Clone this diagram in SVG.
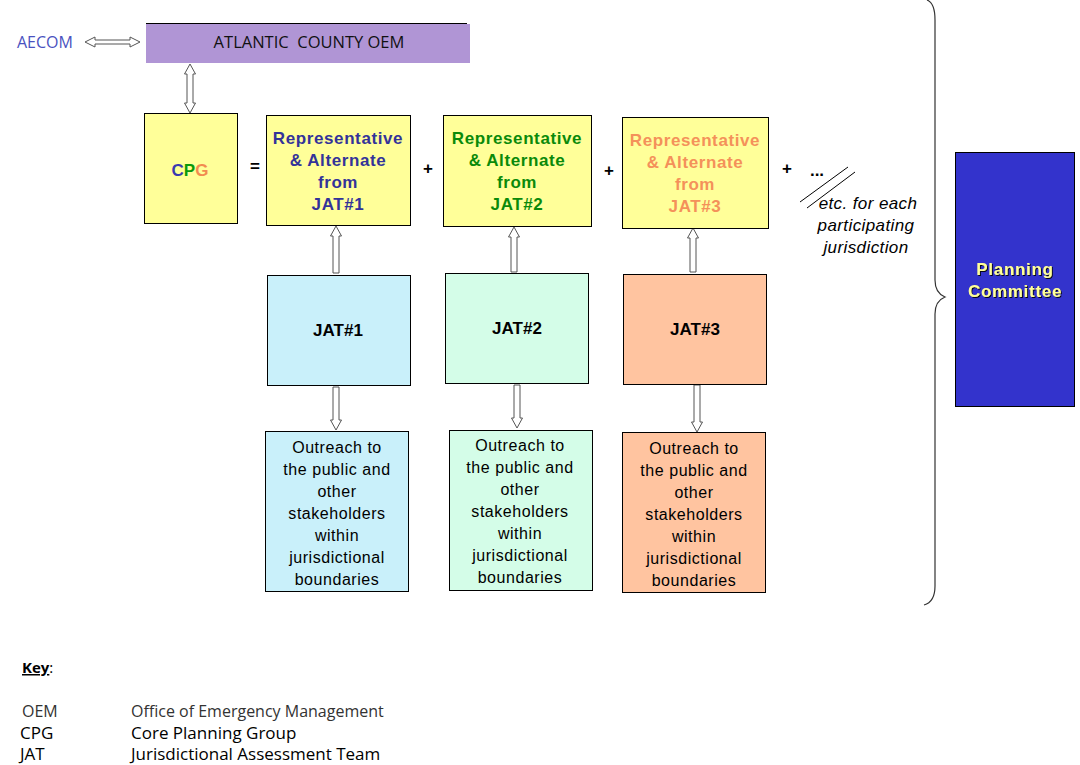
<svg xmlns="http://www.w3.org/2000/svg" width="1080" height="765" viewBox="0 0 1080 765">
<defs>
<filter id="sh" x="-10%" y="-10%" width="130%" height="140%"><feDropShadow dx="1" dy="1" stdDeviation="0.3" flood-color="#000" flood-opacity="0.9"/></filter>
</defs>
<style>
.box{stroke:#000;stroke-width:1}
.arr{fill:#fff;stroke:#555;stroke-width:1}
.b{font-family:"Liberation Sans",Arial,sans-serif;font-weight:bold;font-size:17px;text-anchor:middle}
.r{font-family:"Liberation Sans",Arial,sans-serif;font-size:16px;letter-spacing:0.55px;text-anchor:middle;fill:#000}
.rep{letter-spacing:0.6px}
.seg{font-family:"Open Sans","Noto Sans",sans-serif}
</style>
<rect width="1080" height="765" fill="#fff"/>
<g id="connectors">
<polygon class="arr" points="85,42 95,37 95,40 130,40 130,37 140,42 130,47 130,44 95,44 95,47"/>
<polygon class="arr" points="190,64 195.5,74 193,74 193,103 195.5,103 190,113 184.5,103 187,103 187,74 184.5,74"/>
<polygon class="arr" points="336,226 341.5,236 339,236 339,273 333,273 333,236 330.5,236"/>
<polygon class="arr" points="514,227 519.5,237 517,237 517,272 511,272 511,237 508.5,237"/>
<polygon class="arr" points="693,228 698.5,238 696,238 696,272 690,272 690,238 687.5,238"/>
<polygon class="arr" points="336,430 341.5,420 339,420 339,387 333,387 333,420 330.5,420"/>
<polygon class="arr" points="517,428 522.5,418 520,418 520,385 514,385 514,418 511.5,418"/>
<polygon class="arr" points="697,432 702.5,422 700,422 700,385 694,385 694,422 691.5,422"/>
<line x1="800" y1="202" x2="848" y2="167" stroke="#000" stroke-width="1"/>
<line x1="807" y1="208" x2="855" y2="172" stroke="#000" stroke-width="1"/>
<path d="M927 0 Q935 3 935 20 L935 280 Q935 293 945 297 Q935 301 935 314 L935 586 Q935 602 924 605" fill="none" stroke="#333" stroke-width="1.2"/>
</g>
<g id="aecom"><text x="17" y="48" class="seg" font-size="16" fill="#4a52c0">AECOM</text></g>
<g id="oem">
<rect x="146" y="24" width="324" height="39" fill="#b095d5"/>
<line x1="146" y1="23.5" x2="467" y2="23.5" stroke="#000" stroke-width="1"/>
<text x="309" y="48" class="seg" font-size="16.5" text-anchor="middle" fill="#111">ATLANTIC&#160; COUNTY OEM</text>
</g>
<g id="cpg">
<rect class="box" x="144.5" y="113.5" width="93" height="110" fill="#ffff99"/>
<text x="190" y="176" class="b" font-size="16"><tspan fill="#3a3ab0">C</tspan><tspan fill="#0a9a0a">P</tspan><tspan fill="#f28c50">G</tspan></text>
</g>
<g id="ops">
<text x="255" y="172" class="b" fill="#000">=</text>
<text x="428" y="174" class="b" fill="#000">+</text>
<text x="609" y="176" class="b" fill="#000">+</text>
<text x="787" y="174" class="b" fill="#000">+</text>
<text x="817" y="176" class="b" fill="#000">...</text>
</g>
<g id="rep1">
<rect class="box" x="266.5" y="115.5" width="144" height="110" fill="#ffff99"/>
<text class="b rep" fill="#333399"><tspan x="338" y="144">Representative</tspan><tspan x="338" y="166">&amp; Alternate</tspan><tspan x="338" y="188">from</tspan><tspan x="338" y="210">JAT#1</tspan></text>
</g>
<g id="rep2">
<rect class="box" x="443.5" y="115.5" width="148" height="111" fill="#ffff99"/>
<text class="b rep" fill="#0a8a0a"><tspan x="517" y="144">Representative</tspan><tspan x="517" y="166">&amp; Alternate</tspan><tspan x="517" y="188">from</tspan><tspan x="517" y="210">JAT#2</tspan></text>
</g>
<g id="rep3">
<rect class="box" x="622.5" y="117.5" width="146" height="111" fill="#ffff99"/>
<text class="b rep" fill="#f4915a"><tspan x="695" y="146">Representative</tspan><tspan x="695" y="168">&amp; Alternate</tspan><tspan x="695" y="190">from</tspan><tspan x="695" y="212">JAT#3</tspan></text>
</g>
<g id="etc">
<text font-family="Liberation Sans,Arial,sans-serif" font-style="italic" font-size="17" letter-spacing="0.4" text-anchor="middle" fill="#000"><tspan x="868" y="209">etc. for each</tspan><tspan x="866" y="231">participating</tspan><tspan x="866" y="253">jurisdiction</tspan></text>
</g>
<g id="planning">
<rect class="box" x="955.5" y="152.5" width="119" height="254" fill="#3333cc"/>
<text class="b" font-size="16" letter-spacing="0.7" fill="#ffff99" filter="url(#sh)"><tspan x="1015" y="275">Planning</tspan><tspan x="1015" y="297">Committee</tspan></text>
</g>
<g id="jat1">
<rect class="box" x="267.5" y="275.5" width="143" height="110" fill="#c9f0fa"/>
<text x="338" y="336" class="b" font-size="16" fill="#000">JAT#1</text>
</g>
<g id="jat2">
<rect class="box" x="445.5" y="273.5" width="143" height="110" fill="#d4fde8"/>
<text x="517" y="334" class="b" font-size="16" fill="#000">JAT#2</text>
</g>
<g id="jat3">
<rect class="box" x="623.5" y="274.5" width="143" height="110" fill="#ffc4a0"/>
<text x="695" y="335" class="b" font-size="16" fill="#000">JAT#3</text>
</g>
<g id="out1">
<rect class="box" x="265.5" y="431.5" width="143" height="160" fill="#c9f0fa"/>
<text class="r"><tspan x="337" y="453">Outreach to</tspan><tspan x="337" y="475">the public and</tspan><tspan x="337" y="497">other</tspan><tspan x="337" y="519">stakeholders</tspan><tspan x="337" y="541">within</tspan><tspan x="337" y="563">jurisdictional</tspan><tspan x="337" y="585">boundaries</tspan></text>
</g>
<g id="out2">
<rect class="box" x="449.5" y="430.5" width="143" height="160" fill="#d4fde8"/>
<text class="r"><tspan x="520" y="451">Outreach to</tspan><tspan x="520" y="473">the public and</tspan><tspan x="520" y="495">other</tspan><tspan x="520" y="517">stakeholders</tspan><tspan x="520" y="539">within</tspan><tspan x="520" y="561">jurisdictional</tspan><tspan x="520" y="583">boundaries</tspan></text>
</g>
<g id="out3">
<rect class="box" x="622.5" y="432.5" width="143" height="160" fill="#ffc4a0"/>
<text class="r"><tspan x="694" y="454">Outreach to</tspan><tspan x="694" y="476">the public and</tspan><tspan x="694" y="498">other</tspan><tspan x="694" y="520">stakeholders</tspan><tspan x="694" y="542">within</tspan><tspan x="694" y="564">jurisdictional</tspan><tspan x="694" y="586">boundaries</tspan></text>
</g>
<g id="key">
<text x="22" y="673" class="seg" font-size="15" fill="#000"><tspan font-weight="bold" text-decoration="underline">Key</tspan>:</text>
<text x="22" y="717" class="seg" font-size="16" fill="#333">OEM</text>
<text x="131" y="717" class="seg" font-size="16" fill="#333">Office of Emergency Management</text>
<text x="20" y="739" class="seg" font-size="17" fill="#000">CPG</text>
<text x="131" y="739" class="seg" font-size="17" fill="#000">Core Planning Group</text>
<text x="20" y="760" class="seg" font-size="17" fill="#000">JAT</text>
<text x="131" y="760" class="seg" font-size="17" fill="#000">Jurisdictional Assessment Team</text>
</g>
</svg>
